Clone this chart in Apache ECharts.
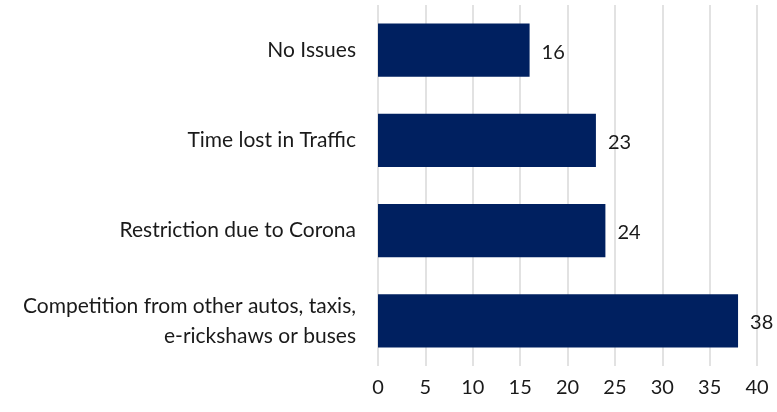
<!DOCTYPE html>
<html>
<head>
<meta charset="utf-8">
<script src="https://cdn.jsdelivr.net/npm/echarts@6/dist/echarts.min.js"></script>
<style>
  html, body { margin: 0; padding: 0; background: #ffffff; }
  #chart { width: 777px; height: 412px; }
</style>
</head>
<body>
<div id="chart"></div>
<script>
// Problems reported, bottom to top
const categories = [
  'Competition from other autos, taxis,\ne-rickshaws or buses',
  'Restriction due to Corona',
  'Time lost in Traffic',
  'No Issues'
];
const values = [38, 24, 23, 16];
const axisMin = 0;
const axisMax = 40;
const axisStep = 5;

const chart = echarts.init(document.getElementById('chart'));
const textFont = 'Lato, "Open Sans", sans-serif';

chart.setOption({
  animation: false,
  grid: { left: 378, right: 20, top: 5, bottom: 46, containLabel: false },
  xAxis: {
    type: 'value',
    min: axisMin,
    max: axisMax,
    interval: axisStep,
    axisLine: { show: false },
    axisTick: { show: false },
    splitLine: { show: true, lineStyle: { color: '#d9d9d9', width: 1.5 } },
    axisLabel: { color: '#1a1a1a', fontSize: 20, fontFamily: textFont, margin: 12 }
  },
  yAxis: {
    type: 'category',
    data: categories,
    axisLine: { show: false },
    axisTick: { show: false },
    axisLabel: {
      color: '#1a1a1a', fontSize: 21, fontFamily: textFont, margin: 22,
      lineHeight: 30, align: 'right'
    }
  },
  series: [{
    type: 'bar',
    data: values,
    barCategoryGap: '41%',
    itemStyle: { color: '#002060' },
    label: {
      show: true,
      position: 'right',
      distance: 12,
      color: '#1a1a1a',
      fontSize: 20,
      fontFamily: textFont,
      offset: [0, 2]
    }
  }]
});
</script>
</body>
</html>
